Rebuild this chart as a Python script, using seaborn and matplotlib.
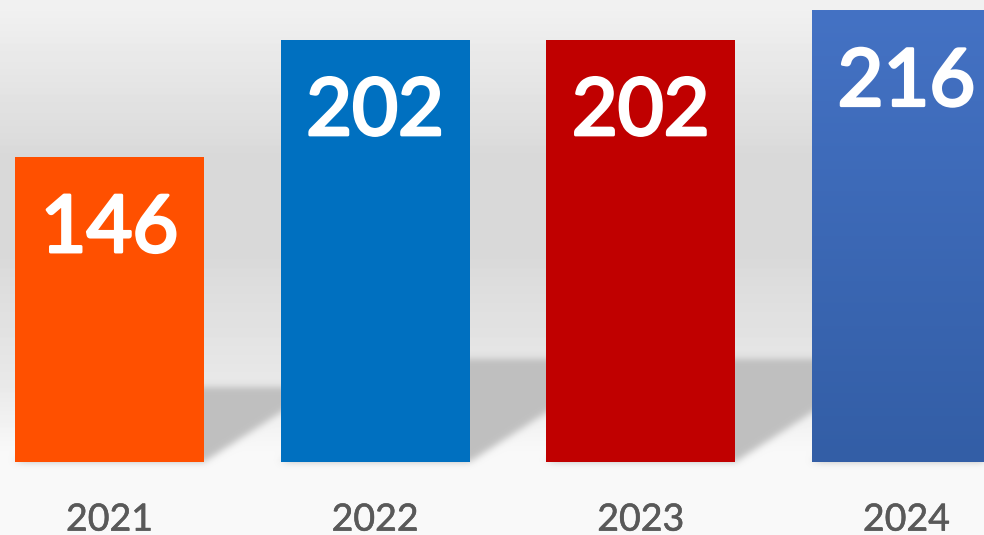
import numpy as np
import pandas as pd
import matplotlib
matplotlib.use("Agg")
import matplotlib.pyplot as plt
import matplotlib.patheffects as pe
from matplotlib.colors import LinearSegmentedColormap
import seaborn as sns

# chart data
years = ["2021", "2022", "2023", "2024"]
counts = [146, 202, 202, 216]
bar_colors = ["#FF5000", "#0070C0", "#C00000", "#4472C4"]
last_bar_bottom = "#335EA6"

df = pd.DataFrame({"year": years, "count": counts})


def gauss_blur(img, sigma):
    """Separable gaussian blur with plain numpy."""
    r = int(3 * sigma)
    k = np.exp(-0.5 * (np.arange(-r, r + 1) / sigma) ** 2)
    k /= k.sum()
    img = np.apply_along_axis(lambda v: np.convolve(v, k, mode="same"), 1, img)
    img = np.apply_along_axis(lambda v: np.convolve(v, k, mode="same"), 0, img)
    return img


def wall_image(xlim, ylim, W, H, bar_w):
    """Grey backdrop with soft slanted shadows behind each bar."""
    x0, x1 = xlim
    y0, y1 = ylim
    ppu_x = W / (x1 - x0)
    ppu_y = H / (y1 - y0)
    py = np.arange(H) + 0.5
    # vertical light gradient of the backdrop (pixel stops)
    bg_col = np.interp(py, [0, 160, 250, 380, 450, 535], [242, 217, 217, 232, 248, 250])
    bg = np.repeat(bg_col[:, None], W, axis=1)

    xs = x0 + (np.arange(W) + 0.5) / ppu_x
    ys = y1 - py / ppu_y
    X, Y = np.meshgrid(xs, ys)
    mask = np.zeros((H, W))
    for i, h in enumerate(counts):
        top = 0.245 * h
        shift = Y * ppu_y * 1.55 / ppu_x
        m = (Y >= 0) & (Y <= top) & (X >= i - bar_w / 2 + shift) & (X <= i + bar_w / 2 + shift)
        mask[m] = 1.0
    a = gauss_blur(mask, 3.5)
    return bg * (1 - a) + 191 * a


sns.set_theme(style="white")
plt.rcParams["font.family"] = ["Lato", "DejaVu Sans"]

fig = plt.figure(figsize=(9.84, 5.35), dpi=100)
ax = fig.add_axes([0, 0, 1, 1])

bar_w = 0.711
xlim = (-0.412, 3.292)
ylim = (-34.9, 221.0)

sns.barplot(data=df, x="year", y="count", hue="year", palette=bar_colors,
            width=bar_w, saturation=1, legend=False, ax=ax, zorder=3,
            linewidth=0, edgecolor="none")

img = wall_image(xlim, ylim, 984, 535, bar_w)
ax.imshow(img, extent=(xlim[0], xlim[1], ylim[0], ylim[1]), cmap="gray",
          vmin=0, vmax=255, aspect="auto", origin="upper", zorder=0,
          interpolation="bilinear")

# gradient fill on the last bar
bars = sorted([p for c in ax.containers for p in c], key=lambda p: p.get_x())
last = bars[-1]
cm = LinearSegmentedColormap.from_list("lastbar", [bar_colors[-1], last_bar_bottom])
grad = np.linspace(0, 1, 256)[:, None]
im = ax.imshow(grad, extent=(last.get_x(), last.get_x() + last.get_width(), 0, last.get_height()),
               cmap=cm, aspect="auto", origin="upper", zorder=3.5)
im.set_clip_path(last)

# value labels inside bars (stroke thickens the regular weight a bit)
for i, h in enumerate(counts):
    ax.text(i, h - 45.5, str(h), ha="center", va="baseline", color="white",
            fontsize=57, zorder=5,
            path_effects=[pe.withStroke(linewidth=2.2, foreground="white")])

# year labels under bars
for i, y in enumerate(years):
    ax.text(i, -32.8, y, ha="center", va="baseline", color="#595959",
            fontsize=27, zorder=5,
            path_effects=[pe.withStroke(linewidth=0.4, foreground="#595959")])

ax.set_xlim(*xlim)
ax.set_ylim(*ylim)
ax.axis("off")

fig.savefig("out.png", dpi=100)
